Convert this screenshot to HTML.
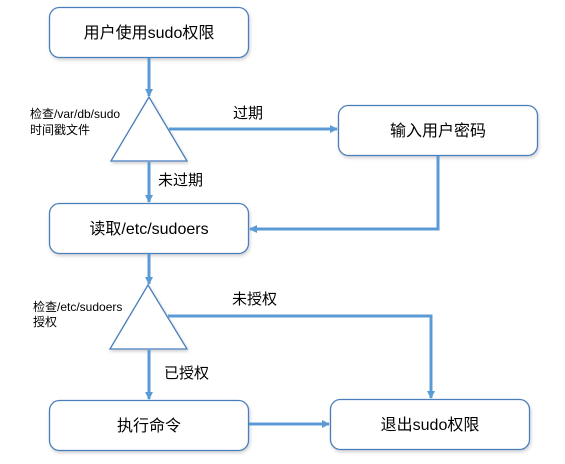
<!DOCTYPE html>
<html><head><meta charset="utf-8"><style>
html,body{margin:0;padding:0;background:#fff;}
svg{display:block;}
text{font-family:"Liberation Sans","Noto Sans CJK SC",sans-serif;fill:#000;}
</style></head><body>
<svg width="565" height="464" viewBox="0 0 565 464" xmlns="http://www.w3.org/2000/svg">
<defs>
<filter id="sh" x="-10%" y="-10%" width="120%" height="130%"><feDropShadow dx="1" dy="2" stdDeviation="1.5" flood-color="#000" flood-opacity="0.18"/></filter>
<marker id="ah" markerWidth="8" markerHeight="8" refX="7" refY="4" orient="auto" markerUnits="userSpaceOnUse"><path d="M0,0 L8,4 L0,8 z" fill="#5b9bd5"/></marker>
</defs>
<g fill="#fff" stroke="#4a7ebb" stroke-width="1.3" filter="url(#sh)">
<rect x="49.5" y="7.5" width="199" height="50" rx="10"/>
<rect x="338.5" y="105.5" width="199" height="50" rx="10"/>
<rect x="49.5" y="203.5" width="199" height="50" rx="10"/>
<rect x="49.5" y="400.5" width="199" height="50" rx="10"/>
<rect x="330.5" y="399.5" width="199" height="50" rx="10"/>
<polygon points="149,97 111,161 187,161"/>
<polygon points="148,285 110,349 187,349"/>
</g>
<g stroke="#5b9bd5" stroke-width="3" fill="none">
<line x1="149" y1="58" x2="149" y2="96" marker-end="url(#ah)"/>
<line x1="169" y1="129" x2="337" y2="129" marker-end="url(#ah)"/>
<line x1="149" y1="162" x2="149" y2="202" marker-end="url(#ah)"/>
<polyline points="438,156 438,229 250,229" marker-end="url(#ah)"/>
<line x1="149" y1="254" x2="149" y2="284" marker-end="url(#ah)"/>
<polyline points="168,316 431,316 431,398" marker-end="url(#ah)"/>
<line x1="149" y1="350" x2="149" y2="399" marker-end="url(#ah)"/>
<line x1="249" y1="424" x2="329" y2="424" marker-end="url(#ah)"/>
</g>
<g font-size="16" text-anchor="middle">
<text x="149" y="38">用户使用sudo权限</text>
<text x="438" y="136">输入用户密码</text>
<text x="149" y="234">读取/etc/sudoers</text>
<text x="149" y="431">执行命令</text>
<text x="430" y="430">退出sudo权限</text>
</g>
<g font-size="15">
<text x="233" y="118">过期</text>
<text x="158" y="185">未过期</text>
<text x="232" y="304">未授权</text>
<text x="164" y="378">已授权</text>
</g>
<g font-size="12">
<text x="30" y="118">检查/var/db/sudo</text>
<text x="30" y="134">时间戳文件</text>
<text x="33" y="311">检查/etc/sudoers</text>
<text x="33" y="326">授权</text>
</g>
</svg>
</body></html>
